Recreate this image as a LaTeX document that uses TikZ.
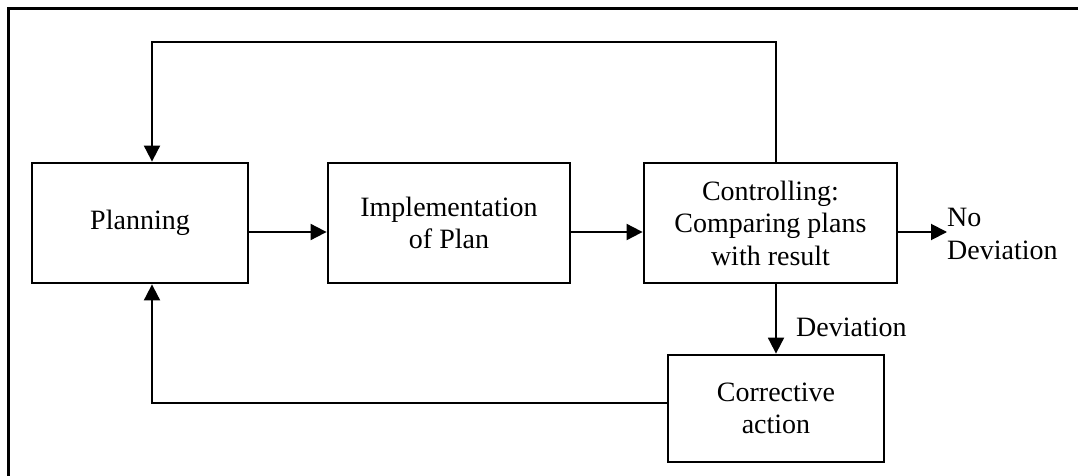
\documentclass[tikz,border=0pt]{standalone}
\usepackage{fontspec}
\setmainfont{Liberation Serif}
\usetikzlibrary{arrows.meta}
\begin{document}
\begin{tikzpicture}[x=1pt,y=-1pt,
  box/.style={draw,line width=2.8pt,inner sep=0pt,align=center,
    font=\fontsize{28}{32.5}\selectfont},
  arr/.style={line width=1.9pt,-{Triangle[length=16pt,width=16pt]}},
  lbl/.style={inner sep=0pt,align=left,font=\fontsize{28}{32.5}\selectfont}]
\useasboundingbox (0,0) rectangle (1078,476);
\draw[line width=3pt] (8,476) -- (8,9) -- (1078,9);
\node[box,minimum width=216pt,minimum height=120pt] (plan) at (140,223) {Planning};
\node[box,minimum width=242pt,minimum height=120pt] (impl) at (449,223) {Implementation\\of Plan};
\node[box,minimum width=253pt,minimum height=120pt] (ctrl) at (770.5,223) {Controlling:\\Comparing plans\\with result};
\node[box,minimum width=216pt,minimum height=107pt] (corr) at (776,408.5) {Corrective\\action};
\node[lbl,anchor=west] (nodev) at (947,234) {No\\Deviation};
\node[lbl,anchor=west] (dev) at (796,327) {Deviation};
\coordinate (topR) at (776,42);
\coordinate (topL) at (152,42);
\coordinate (botL) at (152,403);
\coordinate (row) at (0,232);
\draw[arr] (plan.east |- row) -- (impl.west |- row);
\draw[arr] (impl.east |- row) -- (ctrl.west |- row);
\draw[arr] (ctrl.east |- row) -- (nodev.west |- row);
\draw[arr] (ctrl.south -| topR) -- (corr.north -| topR);
\draw[arr] (ctrl.north -| topR) -- (topR) -- (topL) -- (plan.north -| topL);
\draw[arr] (corr.west |- botL) -- (botL) -- (plan.south -| botL);
\end{tikzpicture}
\end{document}
